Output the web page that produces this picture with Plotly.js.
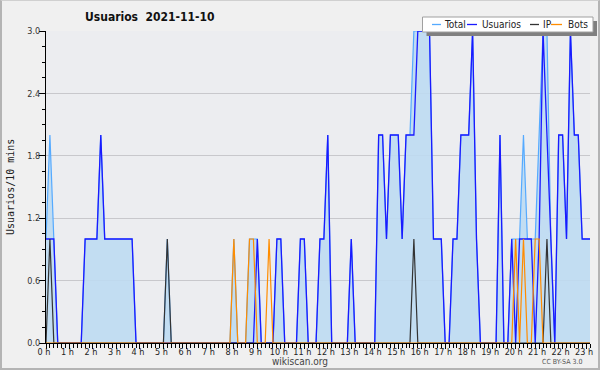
<!DOCTYPE html>
<html>
<head>
<meta charset="utf-8">
<script src="https://cdn.plot.ly/plotly-3.0.1.min.js"></script>
<style>
  html, body { margin:0; padding:0; background:#f0f0f0; }
  #wrap { position:relative; width:600px; height:370px; }
  #chart { position:absolute; left:0; top:0; width:600px; height:370px; }
  #frame { position:absolute; left:0; top:0; width:600px; height:370px; box-sizing:border-box;
           border:2px solid #b4b4b4; border-top:1px solid #d0d0d0; pointer-events:none; }
</style>
</head>
<body>
<div id="wrap"><div id="chart"></div><div id="frame"></div></div>
<script>
// 10-minute slots, 0 = 00:00
const total    = [1,2,1,0,0,0,0,0,0,0, 1,1,1,1,2,1,1,1,1,1, 1,1,1,0,0,0,0,0,0,0,
                  0,1,0,0,0,0,0,0,0,0, 0,0,0,0,0,0,0,0,1,0, 0,0,1,1,1,0,0,0,0,1,
                  1,0,0,0,0,1,1,0,0,0, 1,1,2,0,0,0,0,0,1,0, 0,0,0,0,0,2,2,1,2,2,
                  2,1,2,2,3,3,3,3,3,1, 1,1,0,0,1,1,2,2,2,3, 1,0,0,0,0,0,2,0,0,1,
                  1,1,2,1,1,1,2,3,3,1, 0,2,2,1,3,2,2,1,1,1];
const usuarios = [1,1,1,0,0,0,0,0,0,0, 1,1,1,1,2,1,1,1,1,1, 1,1,1,0,0,0,0,0,0,0,
                  0,0,0,0,0,0,0,0,0,0, 0,0,0,0,0,0,0,0,0,0, 0,0,0,0,1,0,0,0,0,1,
                  1,0,0,0,0,1,1,0,0,0, 1,1,2,0,0,0,0,0,1,0, 0,0,0,0,0,2,2,1,2,2,
                  2,1,2,2,2,3,3,3,3,1, 1,1,0,0,1,1,2,2,2,3, 1,0,0,0,0,0,2,0,0,1,
                  0,1,1,1,1,0,1,3,2,1, 0,2,2,1,3,2,2,1,1,1];
const ip       = [0,1,0,0,0,0,0,0,0,0, 0,0,0,0,0,0,0,0,0,0, 0,0,0,0,0,0,0,0,0,0,
                  0,1,0,0,0,0,0,0,0,0, 0,0,0,0,0,0,0,0,0,0, 0,0,0,0,0,0,0,0,0,0,
                  0,0,0,0,0,0,0,0,0,0, 0,0,0,0,0,0,0,0,0,0, 0,0,0,0,0,0,0,0,0,0,
                  0,0,0,0,1,0,0,0,0,0, 0,0,0,0,0,0,0,0,0,0, 0,0,0,0,0,0,0,0,0,0,
                  0,0,0,0,0,0,0,0,1,0, 0,0,0,0,0,0,0,0,0,0];
const bots     = [0,0,0,0,0,0,0,0,0,0, 0,0,0,0,0,0,0,0,0,0, 0,0,0,0,0,0,0,0,0,0,
                  0,0,0,0,0,0,0,0,0,0, 0,0,0,0,0,0,0,0,1,0, 0,0,1,1,0,0,0,1,0,0,
                  0,0,0,0,0,0,0,0,0,0, 0,0,0,0,0,0,0,0,0,0, 0,0,0,0,0,0,0,0,0,0,
                  0,0,0,0,0,0,0,0,0,0, 0,0,0,0,0,0,0,0,0,0, 0,0,0,0,0,0,0,0,0,0,
                  1,0,1,0,0,1,1,0,0,0, 0,0,0,0,0,0,0,0,0,0];
const seriesNames = ["Total", "Usuarios", "IP", "Bots"];
const hourLabels = ["0 h","1 h","2 h","3 h","4 h","5 h","6 h","7 h","8 h","9 h","10 h","11 h",
                    "12 h","13 h","14 h","15 h","16 h","17 h","18 h","19 h","20 h","21 h","22 h","23 h"];
const yTicks = [0.0, 0.6, 1.2, 1.8, 2.4, 3.0];

const slots = total.map((_, i) => i);
const hourPos = hourLabels.map((_, h) => h * 6);
const colors = ["#55aaff", "#1a1aff", "#333333", "#ff8c00"];

const F = "DejaVu Sans Condensed, Liberation Sans Narrow, Liberation Sans, sans-serif";

const traces = [
  {x: slots, y: total, name: seriesNames[0], type: "scatter", mode: "lines", fill: "tozeroy",
   fillcolor: "rgba(190,218,242,0.9)", line: {color: colors[0], width: 1.2}},
  {x: slots, y: usuarios, name: seriesNames[1], type: "scatter", mode: "lines",
   line: {color: colors[1], width: 1.3}},
  {x: slots, y: ip, name: seriesNames[2], type: "scatter", mode: "lines",
   line: {color: colors[2], width: 1.2}},
  {x: slots, y: bots, name: seriesNames[3], type: "scatter", mode: "lines",
   line: {color: colors[3], width: 1.2}}
];

// pixel helpers for decoration placement (plot area 46..590 x 31..343)
const px = v => (v - 46) / 544;
const py = v => (343 - v) / 312;

// custom legend layout (pixel positions of sample dash and label start)
const legDash = [[432, 441], [467, 477], [530, 539], [551, 562]];
const legText = [443, 481, 542, 567];

const shapes = [
  {type: "rect", xref: "paper", yref: "paper", x0: px(426.5), x1: px(597), y0: py(36), y1: py(21),
   fillcolor: "#808080", line: {width: 0}, layer: "above"},
  {type: "rect", xref: "paper", yref: "paper", x0: px(422.5), x1: px(593), y0: py(32), y1: py(17),
   fillcolor: "#ffffff", line: {color: "#a0a0a0", width: 1}, layer: "above"}
];
legDash.forEach((d, k) => shapes.push({type: "line", xref: "paper", yref: "paper",
  x0: px(d[0]), x1: px(d[1]), y0: py(24.5), y1: py(24.5), layer: "above",
  line: {color: colors[k], width: 1.3}}));

const annotations = [
  {text: "Usuarios/10 mins", xref: "paper", yref: "paper", x: px(10), y: 0.5,
   xanchor: "center", yanchor: "middle", textangle: -90, showarrow: false,
   font: {family: "DejaVu Sans Mono, monospace", size: 10, color: "#222"}},
  {text: "wikiscan.org", xref: "paper", yref: "paper", x: px(300), y: py(361),
   xanchor: "center", yanchor: "middle", showarrow: false,
   font: {family: F, size: 10, color: "#444"}},
  {text: "CC BY-SA 3.0", xref: "paper", yref: "paper", x: px(562), y: py(362),
   xanchor: "center", yanchor: "middle", showarrow: false,
   font: {family: F, size: 7, color: "#555"}}
];
seriesNames.forEach((n, k) => annotations.push({text: n, xref: "paper", yref: "paper",
  x: px(legText[k]), y: py(24.5), xanchor: "left", yanchor: "middle", showarrow: false,
  borderpad: 0, font: {family: F, size: 10, color: "#222"}}));

const layout = {
  width: 600, height: 370,
  margin: {l: 46, r: 10, t: 31, b: 27, pad: 0},
  paper_bgcolor: "#f0f0f0",
  plot_bgcolor: "#ecedf0",
  showlegend: false,
  title: {text: "<b>Usuarios&nbsp;&nbsp;2021-11-10</b>", x: 85/600, xanchor: "left",
          xref: "container", yref: "container", y: 1 - 17/370, yanchor: "middle",
          font: {family: F, size: 12, color: "#111"}},
  xaxis: {range: [0, total.length - 1], tickmode: "array", tickvals: hourPos, ticktext: hourLabels,
          ticks: "outside", ticklen: 5, tickcolor: "#000", tickwidth: 1,
          ticklabelstandoff: -5, ticklabelshift: -2,
          minor: {dtick: 1, tick0: 0, ticks: "outside", ticklen: 4, tickcolor: "#000", showgrid: false},
          showline: true, linecolor: "#000", linewidth: 1, showgrid: false, zeroline: false,
          tickfont: {family: F, size: 9, color: "#222"}, fixedrange: true},
  yaxis: {range: [0, 3], tickmode: "array", tickvals: yTicks, ticktext: yTicks.map(v => v.toFixed(1)),
          ticks: "outside", ticklen: 6, tickcolor: "#000", tickwidth: 1, ticklabelstandoff: -3,
          minor: {dtick: 0.15, tick0: 0, ticks: "outside", ticklen: 3, tickcolor: "#000", showgrid: false},
          showline: true, linecolor: "#000", linewidth: 1,
          showgrid: true, gridcolor: "#c8c8cc", gridwidth: 1, zeroline: false,
          tickfont: {family: F, size: 9, color: "#333"}, fixedrange: true},
  shapes: shapes,
  annotations: annotations
};

Plotly.newPlot("chart", traces, layout, {staticPlot: true, displayModeBar: false});
</script>
</body>
</html>
